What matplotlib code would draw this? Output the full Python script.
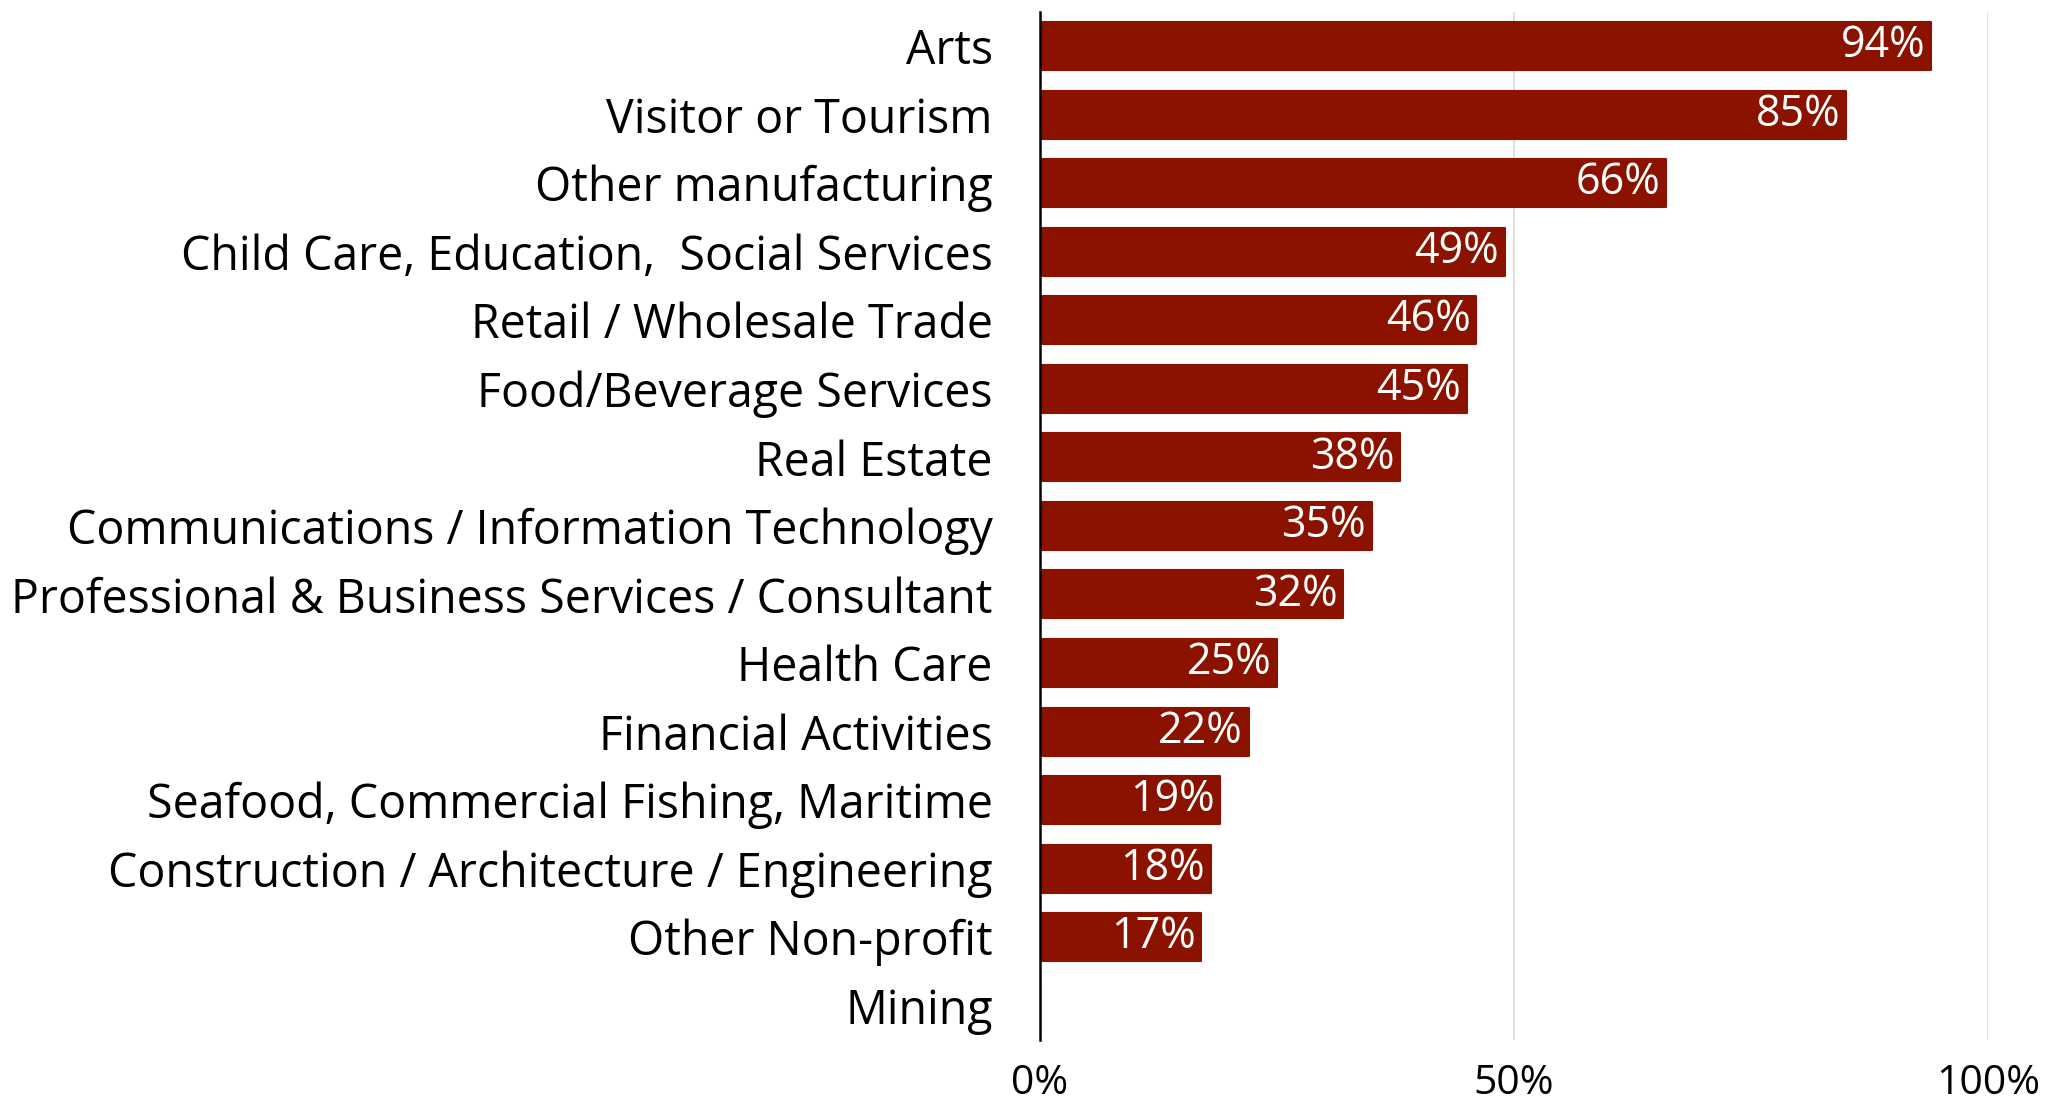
import matplotlib
matplotlib.use("Agg")
import matplotlib.pyplot as plt

categories = [
    "Arts",
    "Visitor or Tourism",
    "Other manufacturing",
    "Child Care, Education,  Social Services",
    "Retail / Wholesale Trade",
    "Food/Beverage Services",
    "Real Estate",
    "Communications / Information Technology",
    "Professional & Business Services / Consultant",
    "Health Care",
    "Financial Activities",
    "Seafood, Commercial Fishing, Maritime",
    "Construction / Architecture / Engineering",
    "Other Non-profit",
    "Mining",
]
values = [94, 85, 66, 49, 46, 45, 38, 35, 32, 25, 22, 19, 18, 17, 0]
xticks = [0, 50, 100]
xtick_labels = ["0%", "50%", "100%"]

bar_color = "#8C1200"
plt.rcParams['font.family'] = ['Open Sans', 'DejaVu Sans']

fig = plt.figure(figsize=(20.46, 11.07), dpi=100)
ax = fig.add_axes([0.5083, 0.0605, 0.4634, 0.9289])

ypos = list(range(len(categories)))
bars = ax.barh(ypos, values, height=0.7, color=bar_color, edgecolor=bar_color,
               linewidth=1.5, joinstyle='round', zorder=3)

for y, v in zip(ypos, values):
    if v > 0:
        ax.text(v - 0.6, y, f"{v}%", ha='right', va='center', color='white',
                fontsize=31, zorder=4)

ax.set_xlim(0, 100)
ax.set_ylim(len(categories) - 0.5, -0.5)
ax.set_yticks(ypos)
ax.set_yticklabels(categories, fontsize=33.5)
ax.set_xticks(xticks)
ax.set_xticklabels(xtick_labels, fontsize=29.5)
ax.tick_params(axis='y', length=0, pad=34)
ax.tick_params(axis='x', length=0, pad=17)

ax.xaxis.grid(True, color='#d9d9d9', linewidth=1.2, zorder=0)
ax.set_axisbelow(True)
for s in ['top', 'right', 'bottom']:
    ax.spines[s].set_visible(False)
ax.spines['left'].set_color('black')
ax.spines['left'].set_linewidth(1.8)
ax.spines['left'].set_zorder(5)

fig.savefig("out.png", dpi=100)
